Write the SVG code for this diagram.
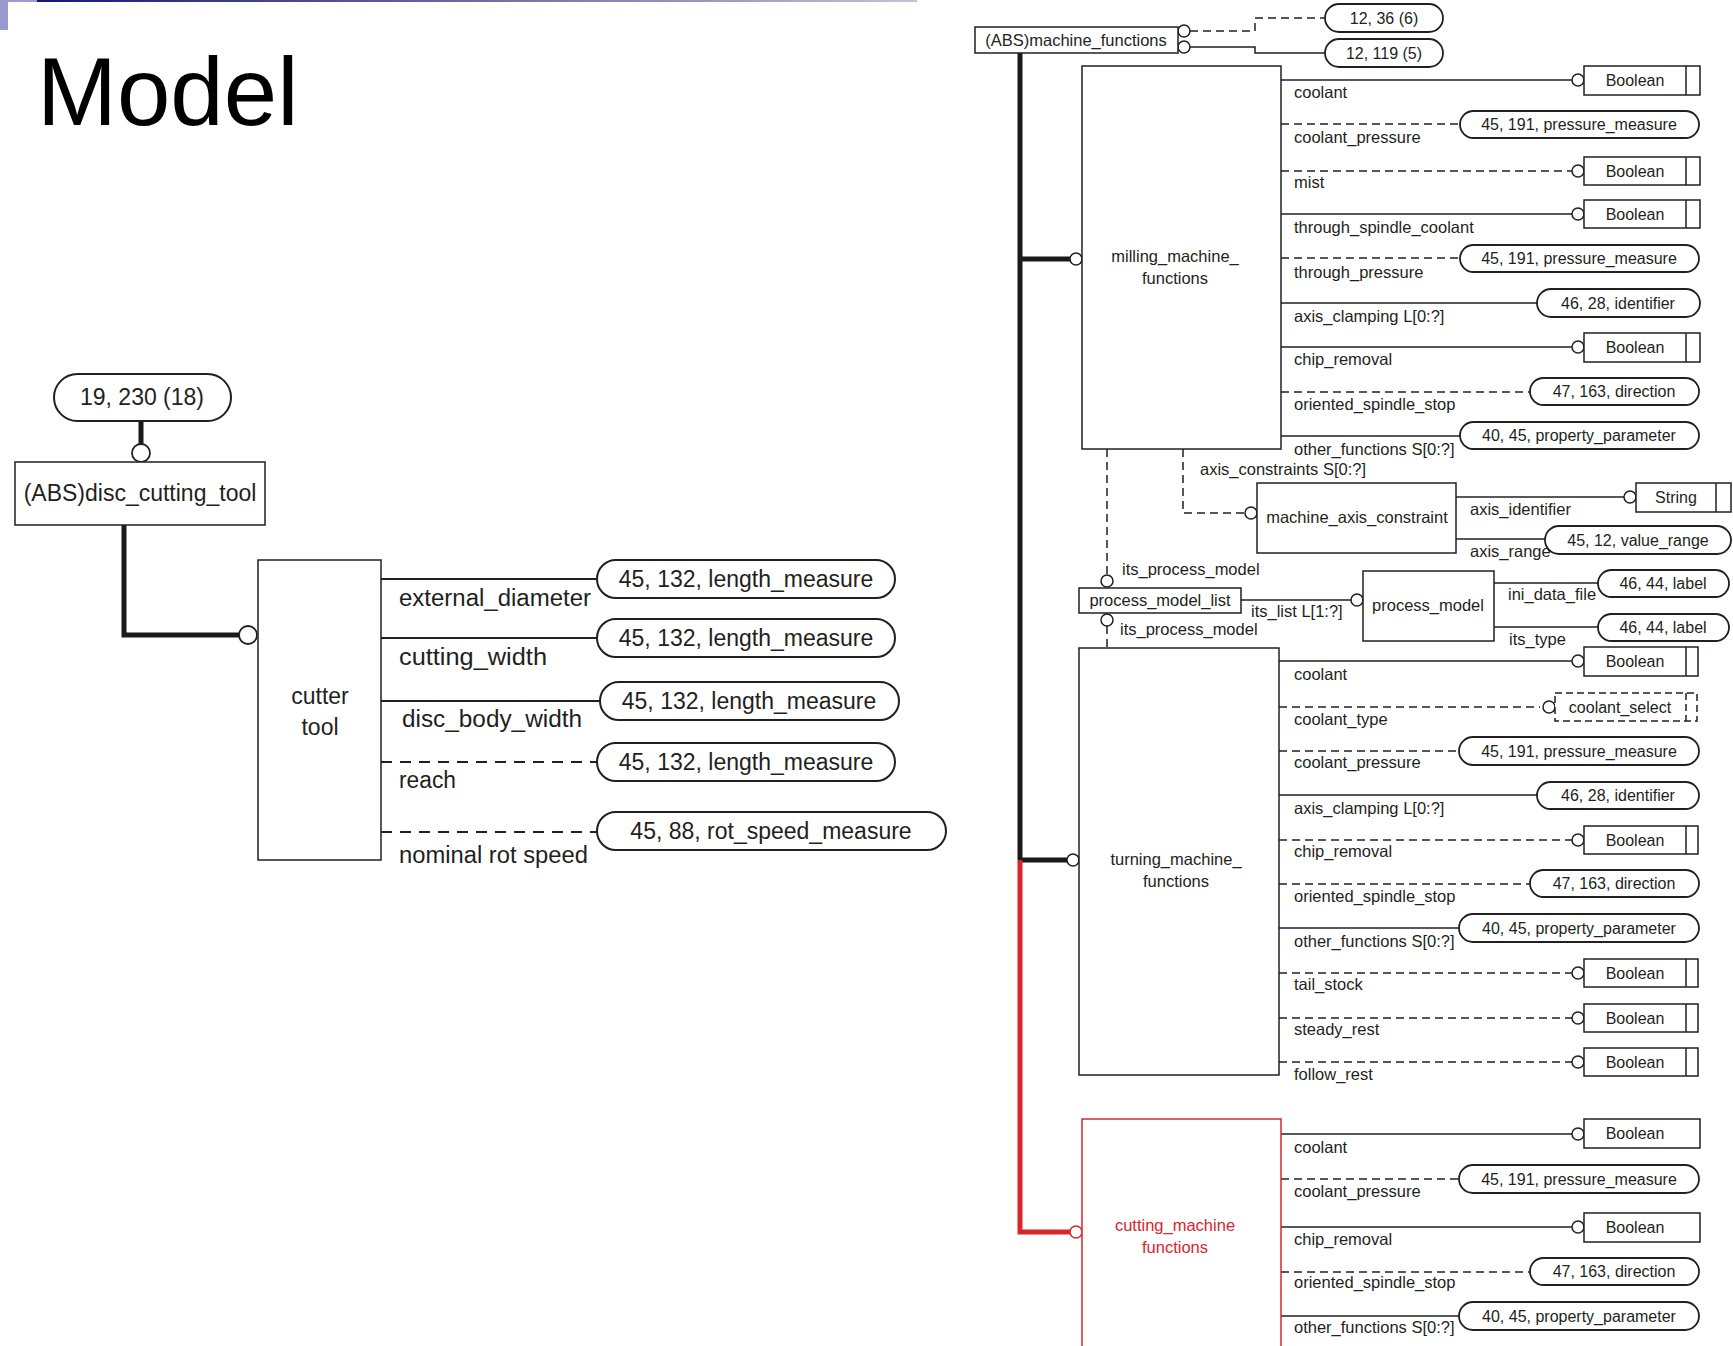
<svg xmlns="http://www.w3.org/2000/svg" width="1733" height="1346" viewBox="0 0 1733 1346">
<defs>
<linearGradient id="bar" x1="0" x2="1" y1="0" y2="0">
<stop offset="0" stop-color="#16167a"/>
<stop offset="0.5" stop-color="#6e6c9e"/>
<stop offset="1" stop-color="#c2c3d3"/>
</linearGradient>
</defs>
<style>
text { font-family: "Liberation Sans", Arial, sans-serif; fill: #231f20; }
.L { font-size: 23px; }
.R { font-size: 16.5px; }
.P { font-size: 16px; text-anchor: middle; }
.m { text-anchor: middle; }
.box { fill: #fff; stroke: #231f20; stroke-width: 1.5; }
.pill { fill: #fff; stroke: #231f20; stroke-width: 1.8; }
.pillL { fill: #fff; stroke: #231f20; stroke-width: 2; }
.c { fill: #fff; stroke: #231f20; stroke-width: 1.5; }
.cL { fill: #fff; stroke: #231f20; stroke-width: 1.8; }
.s { stroke: #231f20; stroke-width: 1.5; fill: none; }
.d { stroke: #231f20; stroke-width: 1.5; fill: none; stroke-dasharray: 8 5; }
.sL { stroke: #231f20; stroke-width: 1.8; fill: none; }
.dL { stroke: #231f20; stroke-width: 1.8; fill: none; stroke-dasharray: 11 8; }
.thick { stroke: #1a1a1a; stroke-width: 5; fill: none; }
.red { stroke: #d7262e; stroke-width: 5; fill: none; }
.inner { stroke: #231f20; stroke-width: 1.5; }
.rtext { fill: #d7262e; }
</style>

<g id="header">
<rect x="0" y="0" width="37" height="2" fill="#9a9acc"/>
<rect x="37" y="0" width="880" height="2" fill="url(#bar)"/>
<rect x="0" y="0" width="8" height="30" fill="#9a9acc"/>
<text x="37" y="125" style="font-size:96px;fill:#000">Model</text>
</g>

<g id="connectors">
<!-- left -->
<path class="thick" d="M141 421 V444"/>
<path class="thick" d="M124 525 V635 H239"/>
<circle class="cL" cx="141" cy="453" r="9"/>
<circle class="cL" cx="248" cy="635" r="9"/>
<path class="sL" d="M381 579 H597"/>
<path class="sL" d="M381 638 H597"/>
<path class="sL" d="M381 701 H600"/>
<path class="dL" d="M381 762 H597"/>
<path class="dL" d="M381 832 H597"/>
<text class="L" x="399" y="606" textLength="192" lengthAdjust="spacingAndGlyphs">external_diameter</text>
<text class="L" x="399" y="665" textLength="148" lengthAdjust="spacingAndGlyphs">cutting_width</text>
<text class="L" x="402" y="727" textLength="180" lengthAdjust="spacingAndGlyphs">disc_body_width</text>
<text class="L" x="399" y="788" textLength="57" lengthAdjust="spacingAndGlyphs">reach</text>
<text class="L" x="399" y="863" textLength="189" lengthAdjust="spacingAndGlyphs">nominal rot speed</text>

<!-- right top -->
<path class="d" d="M1190 31 H1255 V18 H1325"/>
<path class="s" d="M1190 47 H1255 V53 H1325"/>
<circle class="c" cx="1184" cy="31" r="6"/>
<circle class="c" cx="1184" cy="47" r="6"/>
<path class="thick" d="M1020 53 V860"/>
<path class="thick" d="M1020 259 H1070"/>
<path class="thick" d="M1020 860 H1067"/>
<path class="red" d="M1020 860 V1232 H1070"/>
<circle class="c" cx="1076" cy="259" r="6"/>
<circle class="c" cx="1073" cy="860" r="6"/>
<circle class="c" cx="1076" cy="1232" r="6" style="stroke:#d7262e"/>

<!-- milling attributes -->
<path class="s" d="M1281 80 H1572"/>
<path class="d" d="M1281 124 H1460"/>
<path class="d" d="M1281 171 H1572"/>
<path class="s" d="M1281 214 H1572"/>
<path class="d" d="M1281 258 H1460"/>
<path class="s" d="M1281 303 H1537"/>
<path class="s" d="M1281 347 H1572"/>
<path class="d" d="M1281 392 H1530"/>
<path class="s" d="M1281 436 H1460"/>
<circle class="c" cx="1578" cy="80" r="6"/>
<circle class="c" cx="1578" cy="171" r="6"/>
<circle class="c" cx="1578" cy="214" r="6"/>
<circle class="c" cx="1578" cy="347" r="6"/>
<text class="R" x="1294" y="98">coolant</text>
<text class="R" x="1294" y="143">coolant_pressure</text>
<text class="R" x="1294" y="188">mist</text>
<text class="R" x="1294" y="233">through_spindle_coolant</text>
<text class="R" x="1294" y="278">through_pressure</text>
<text class="R" x="1294" y="322">axis_clamping L[0:?]</text>
<text class="R" x="1294" y="365">chip_removal</text>
<text class="R" x="1294" y="410">oriented_spindle_stop</text>
<text class="R" x="1294" y="455">other_functions S[0:?]</text>

<!-- axis constraint / process model -->
<path class="d" d="M1183 449 V513 H1245"/>
<circle class="c" cx="1251" cy="513" r="6"/>
<text class="R" x="1200" y="475">axis_constraints S[0:?]</text>
<path class="s" d="M1456 497 H1624"/>
<circle class="c" cx="1630" cy="497" r="6"/>
<path class="s" d="M1456 539 H1545"/>
<text class="R" x="1470" y="515">axis_identifier</text>
<text class="R" x="1470" y="557">axis_range</text>
<path class="d" d="M1107 449 V575"/>
<circle class="c" cx="1107" cy="581" r="6"/>
<circle class="c" cx="1107" cy="620" r="6"/>
<path class="d" d="M1107 626 V648"/>
<text class="R" x="1122" y="575">its_process_model</text>
<text class="R" x="1120" y="635">its_process_model</text>
<path class="s" d="M1241 600 H1351"/>
<circle class="c" cx="1357" cy="600" r="6"/>
<text class="R" x="1251" y="617">its_list L[1:?]</text>
<path class="s" d="M1494 583 H1598"/>
<path class="s" d="M1494 627 H1598"/>
<text class="R" x="1508" y="600">ini_data_file</text>
<text class="R" x="1509" y="645">its_type</text>

<!-- turning attributes -->
<path class="s" d="M1279 661 H1572"/>
<path class="d" d="M1279 707 H1540"/>
<path class="d" d="M1279 751 H1459"/>
<path class="s" d="M1279 795 H1537"/>
<path class="d" d="M1279 840 H1572"/>
<path class="d" d="M1279 884 H1530"/>
<path class="s" d="M1279 928 H1459"/>
<path class="d" d="M1279 973 H1572"/>
<path class="d" d="M1279 1018 H1572"/>
<path class="d" d="M1279 1062 H1572"/>
<circle class="c" cx="1578" cy="661" r="6"/>
<circle class="c" cx="1549" cy="707" r="6"/>
<circle class="c" cx="1578" cy="840" r="6"/>
<circle class="c" cx="1578" cy="973" r="6"/>
<circle class="c" cx="1578" cy="1018" r="6"/>
<circle class="c" cx="1578" cy="1062" r="6"/>
<text class="R" x="1294" y="680">coolant</text>
<text class="R" x="1294" y="725">coolant_type</text>
<text class="R" x="1294" y="768">coolant_pressure</text>
<text class="R" x="1294" y="814">axis_clamping L[0:?]</text>
<text class="R" x="1294" y="857">chip_removal</text>
<text class="R" x="1294" y="902">oriented_spindle_stop</text>
<text class="R" x="1294" y="947">other_functions S[0:?]</text>
<text class="R" x="1294" y="990">tail_stock</text>
<text class="R" x="1294" y="1035">steady_rest</text>
<text class="R" x="1294" y="1080">follow_rest</text>

<!-- cutting attributes -->
<path class="s" d="M1281 1134 H1572"/>
<path class="d" d="M1281 1179 H1459"/>
<path class="s" d="M1281 1227 H1572"/>
<path class="d" d="M1281 1272 H1530"/>
<path class="s" d="M1281 1316 H1459"/>
<circle class="c" cx="1578" cy="1134" r="6"/>
<circle class="c" cx="1578" cy="1227" r="6"/>
<text class="R" x="1294" y="1153">coolant</text>
<text class="R" x="1294" y="1197">coolant_pressure</text>
<text class="R" x="1294" y="1245">chip_removal</text>
<text class="R" x="1294" y="1288">oriented_spindle_stop</text>
<text class="R" x="1294" y="1333">other_functions S[0:?]</text>
</g>

<!-- LEFT NODES -->
<g id="n_19_230"><rect class="pillL" x="54" y="374" width="177" height="47" rx="23.5"/><text class="L m" x="142" y="405">19, 230 (18)</text></g>
<g id="n_disc_cutting_tool"><rect class="box" x="15" y="462" width="250" height="63"/><text class="L m" x="140" y="501">(ABS)disc_cutting_tool</text></g>
<g id="n_cutter_tool"><rect class="box" x="258" y="560" width="123" height="300"/><text class="L m" x="320" y="704">cutter</text><text class="L m" x="320" y="735">tool</text></g>
<g id="n_ext_diam"><rect class="pillL" x="597" y="560" width="298" height="38" rx="19"/><text class="L m" x="746" y="587">45, 132, length_measure</text></g>
<g id="n_cut_width"><rect class="pillL" x="597" y="619" width="298" height="38" rx="19"/><text class="L m" x="746" y="646">45, 132, length_measure</text></g>
<g id="n_disc_body"><rect class="pillL" x="600" y="682" width="299" height="38" rx="19"/><text class="L m" x="749" y="709">45, 132, length_measure</text></g>
<g id="n_reach"><rect class="pillL" x="597" y="743" width="298" height="38" rx="19"/><text class="L m" x="746" y="770">45, 132, length_measure</text></g>
<g id="n_rot_speed"><rect class="pillL" x="597" y="812" width="349" height="38" rx="19"/><text class="L m" x="771" y="839">45, 88, rot_speed_measure</text></g>

<!-- RIGHT NODES -->
<g id="n_machine_functions"><rect class="box" x="975" y="27" width="203" height="26"/><text class="R m" x="1076" y="46">(ABS)machine_functions</text></g>
<g id="n_12_36"><rect class="pill" x="1325" y="4" width="118" height="28" rx="14"/><text class="P" x="1384" y="24">12, 36 (6)</text></g>
<g id="n_12_119"><rect class="pill" x="1325" y="39" width="118" height="28" rx="14"/><text class="P" x="1384" y="59">12, 119 (5)</text></g>

<g id="n_milling"><rect class="box" x="1082" y="66" width="199" height="383"/><text class="R m" x="1175" y="262">milling_machine_</text><text class="R m" x="1175" y="284">functions</text></g>
<g id="n_m_coolant"><rect class="box" x="1584" y="66" width="116" height="29"/><line class="inner" x1="1686" y1="66" x2="1686" y2="95"/><text class="P" x="1635" y="86">Boolean</text></g>
<g id="n_m_cpress"><rect class="pill" x="1460" y="111" width="239" height="27" rx="13.5"/><text class="P" x="1579" y="130">45, 191, pressure_measure</text></g>
<g id="n_m_mist"><rect class="box" x="1584" y="157" width="116" height="28"/><line class="inner" x1="1686" y1="157" x2="1686" y2="185"/><text class="P" x="1635" y="177">Boolean</text></g>
<g id="n_m_tsc"><rect class="box" x="1584" y="200" width="116" height="28"/><line class="inner" x1="1686" y1="200" x2="1686" y2="228"/><text class="P" x="1635" y="220">Boolean</text></g>
<g id="n_m_tpress"><rect class="pill" x="1460" y="245" width="239" height="27" rx="13.5"/><text class="P" x="1579" y="264">45, 191, pressure_measure</text></g>
<g id="n_m_axis"><rect class="pill" x="1537" y="289" width="163" height="28" rx="14"/><text class="P" x="1618" y="309">46, 28, identifier</text></g>
<g id="n_m_chip"><rect class="box" x="1584" y="333" width="116" height="29"/><line class="inner" x1="1686" y1="333" x2="1686" y2="362"/><text class="P" x="1635" y="353">Boolean</text></g>
<g id="n_m_oss"><rect class="pill" x="1530" y="378" width="169" height="27" rx="13.5"/><text class="P" x="1614" y="397">47, 163, direction</text></g>
<g id="n_m_other"><rect class="pill" x="1460" y="422" width="239" height="27" rx="13.5"/><text class="P" x="1579" y="441">40, 45, property_parameter</text></g>

<g id="n_machine_axis_constraint"><rect class="box" x="1257" y="483" width="199" height="70"/><text class="R m" x="1357" y="523">machine_axis_constraint</text></g>
<g id="n_string"><rect class="box" x="1636" y="483" width="95" height="29"/><line class="inner" x1="1716" y1="483" x2="1716" y2="512"/><text class="P" x="1676" y="503">String</text></g>
<g id="n_value_range"><rect class="pill" x="1545" y="526" width="186" height="28" rx="14"/><text class="P" x="1638" y="546">45, 12, value_range</text></g>
<g id="n_process_model_list"><rect class="box" x="1079" y="588" width="162" height="25"/><text class="R m" x="1160" y="606">process_model_list</text></g>
<g id="n_process_model"><rect class="box" x="1363" y="571" width="131" height="70"/><text class="R m" x="1428" y="611">process_model</text></g>
<g id="n_ini_label"><rect class="pill" x="1598" y="570" width="131" height="27" rx="13.5"/><text class="P" x="1663" y="589">46, 44, label</text></g>
<g id="n_type_label"><rect class="pill" x="1598" y="614" width="131" height="27" rx="13.5"/><text class="P" x="1663" y="633">46, 44, label</text></g>

<g id="n_turning"><rect class="box" x="1079" y="648" width="200" height="427"/><text class="R m" x="1176" y="865">turning_machine_</text><text class="R m" x="1176" y="887">functions</text></g>
<g id="n_t_coolant"><rect class="box" x="1584" y="647" width="114" height="29"/><line class="inner" x1="1686" y1="647" x2="1686" y2="676"/><text class="P" x="1635" y="667">Boolean</text></g>
<g id="n_t_coolant_select"><rect class="box" x="1555" y="693" width="142" height="28" style="stroke-dasharray:7 4"/><line class="inner" x1="1686" y1="693" x2="1686" y2="721" style="stroke-dasharray:7 4"/><text class="P" x="1620" y="713">coolant_select</text></g>
<g id="n_t_cpress"><rect class="pill" x="1459" y="737" width="240" height="28" rx="14"/><text class="P" x="1579" y="757">45, 191, pressure_measure</text></g>
<g id="n_t_axis"><rect class="pill" x="1537" y="782" width="162" height="27" rx="13.5"/><text class="P" x="1618" y="801">46, 28, identifier</text></g>
<g id="n_t_chip"><rect class="box" x="1584" y="826" width="114" height="28"/><line class="inner" x1="1686" y1="826" x2="1686" y2="854"/><text class="P" x="1635" y="846">Boolean</text></g>
<g id="n_t_oss"><rect class="pill" x="1530" y="870" width="169" height="27" rx="13.5"/><text class="P" x="1614" y="889">47, 163, direction</text></g>
<g id="n_t_other"><rect class="pill" x="1459" y="914" width="240" height="28" rx="14"/><text class="P" x="1579" y="934">40, 45, property_parameter</text></g>
<g id="n_t_tail"><rect class="box" x="1584" y="959" width="114" height="28"/><line class="inner" x1="1686" y1="959" x2="1686" y2="987"/><text class="P" x="1635" y="979">Boolean</text></g>
<g id="n_t_steady"><rect class="box" x="1584" y="1004" width="114" height="28"/><line class="inner" x1="1686" y1="1004" x2="1686" y2="1032"/><text class="P" x="1635" y="1024">Boolean</text></g>
<g id="n_t_follow"><rect class="box" x="1584" y="1048" width="114" height="28"/><line class="inner" x1="1686" y1="1048" x2="1686" y2="1076"/><text class="P" x="1635" y="1068">Boolean</text></g>

<g id="n_cutting"><rect class="box" x="1082" y="1119" width="199" height="260" style="stroke:#d7262e"/><text class="R m rtext" x="1175" y="1231">cutting_machine</text><text class="R m rtext" x="1175" y="1253">functions</text></g>
<g id="n_c_coolant"><rect class="box" x="1584" y="1119" width="116" height="29"/><text class="P" x="1635" y="1139">Boolean</text></g>
<g id="n_c_cpress"><rect class="pill" x="1459" y="1165" width="240" height="28" rx="14"/><text class="P" x="1579" y="1185">45, 191, pressure_measure</text></g>
<g id="n_c_chip"><rect class="box" x="1584" y="1213" width="116" height="29"/><text class="P" x="1635" y="1233">Boolean</text></g>
<g id="n_c_oss"><rect class="pill" x="1530" y="1258" width="169" height="27" rx="13.5"/><text class="P" x="1614" y="1277">47, 163, direction</text></g>
<g id="n_c_other"><rect class="pill" x="1459" y="1302" width="240" height="28" rx="14"/><text class="P" x="1579" y="1322">40, 45, property_parameter</text></g>
</svg>
